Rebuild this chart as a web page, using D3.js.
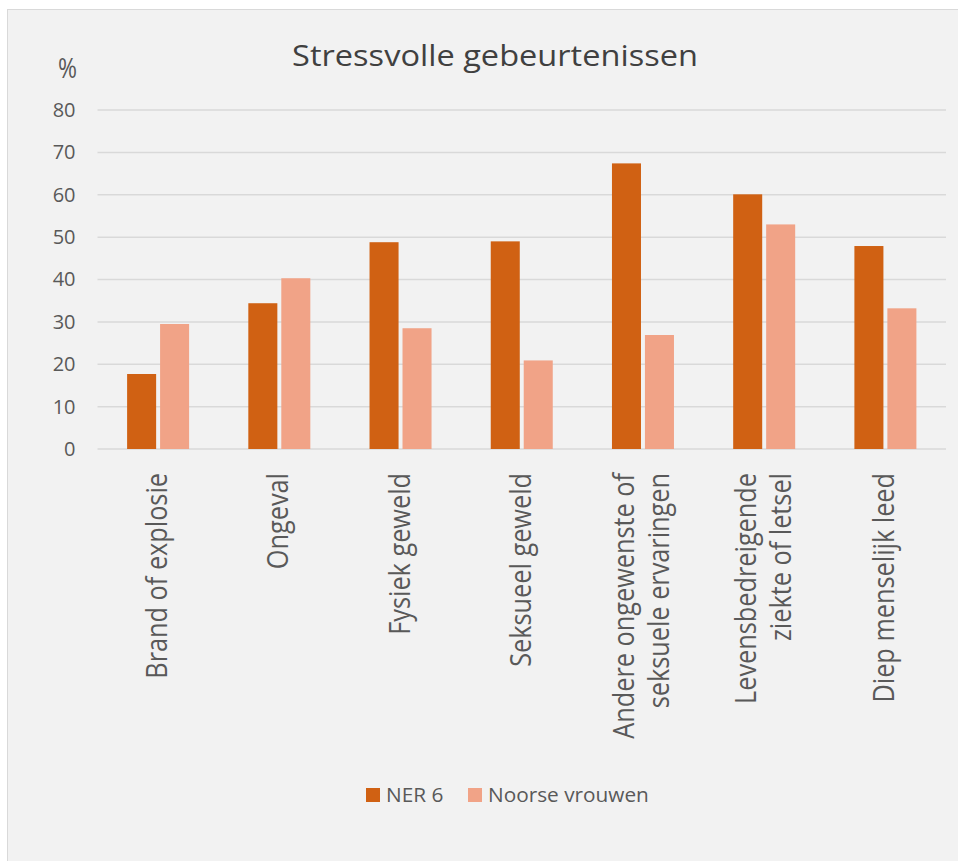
<!DOCTYPE html>
<html>
<head>
<meta charset="utf-8">
<script src="https://cdn.jsdelivr.net/npm/d3@7"></script>
<style>
  body { margin: 0; background: #fff; font-family: "Open Sans", sans-serif; }
</style>
</head>
<body>
<script>
// data
const categories = [
  ["Brand of explosie"],
  ["Ongeval"],
  ["Fysiek geweld"],
  ["Seksueel geweld"],
  ["Andere ongewenste of", "seksuele ervaringen"],
  ["Levensbedreigende", "ziekte of letsel"],
  ["Diep menselijk leed"]
];
const ner6 = [17.7, 34.4, 48.8, 49.0, 67.4, 60.1, 47.9];
const noorse = [29.5, 40.3, 28.5, 20.9, 26.9, 53.0, 33.2];
const seriesNames = ["NER 6", "Noorse vrouwen"];
const yTicks = [0, 10, 20, 30, 40, 50, 60, 70, 80];

const colors = ["#d06113", "#f1a387"];

const W = 958, H = 861;
const svg = d3.select("body").append("svg").attr("width", W).attr("height", H);

// panel
svg.append("rect")
  .attr("x", 7.5).attr("y", 9.5)
  .attr("width", W).attr("height", H)
  .attr("fill", "#f2f2f2").attr("stroke", "#d9d9d9");

const plotL = 97.5, plotR = 946, plotT = 110, plotB = 449;

const x = d3.scaleBand().domain(d3.range(categories.length)).range([plotL, plotR]);
const y = d3.scaleLinear().domain([0, 80]).range([plotB, plotT]);

// gridlines
svg.append("g").selectAll("line")
  .data(yTicks).enter().append("line")
  .attr("x1", plotL).attr("x2", plotR)
  .attr("y1", d => y(d)).attr("y2", d => y(d))
  .attr("stroke", "#d9d9d9").attr("stroke-width", 1.5);

// y axis labels
const yAxis = svg.append("g")
  .attr("transform", "translate(" + (plotL - 22) + ",0)")
  .call(d3.axisLeft(y).tickValues(yTicks).tickSize(0).tickPadding(0));
yAxis.select(".domain").remove();
yAxis.selectAll("text")
  .attr("font-family", "Open Sans").attr("font-size", 20)
  .attr("fill", "#595959");

svg.append("text")
  .attr("transform", "translate(67.5,78) scale(1,1.15)")
  .attr("text-anchor", "middle")
  .attr("font-size", 23).attr("fill", "#595959").text("%");

// title
svg.append("text")
  .attr("transform", "translate(495,66) scale(1.086,1)")
  .attr("text-anchor", "middle")
  .attr("font-size", 30).attr("fill", "#404040")
  .text("Stressvolle gebeurtenissen");

// bars
const inner = d3.scaleBand().domain([0, 1]).range([0, 62]).paddingInner(0.12);
const groupOff = (x.bandwidth() - 62) / 2;
[ner6, noorse].forEach((vals, s) => {
  svg.append("g").selectAll("rect")
    .data(vals).enter().append("rect")
    .attr("x", (d, i) => x(i) + groupOff + inner(s))
    .attr("y", d => y(d))
    .attr("width", inner.bandwidth())
    .attr("height", d => y(0) - y(d))
    .attr("fill", colors[s]);
});

// category labels, rotated
const lineH = 35;
categories.forEach((lines, i) => {
  const cx = x(i) + x.bandwidth() / 2;
  lines.forEach((t, j) => {
    const lx = cx + (j - (lines.length - 1) / 2) * lineH + 9;
    svg.append("text")
      .attr("transform", "translate(" + lx + ",473) rotate(-90) scale(1,1.14)")
      .attr("text-anchor", "end")
      .attr("font-size", 25.3).attr("fill", "#595959")
      .text(t);
  });
});

// legend
const legendX = [366, 468];
seriesNames.forEach((n, s) => {
  svg.append("rect").attr("x", legendX[s]).attr("y", 788)
    .attr("width", 14).attr("height", 14).attr("fill", colors[s]);
  svg.append("text").attr("x", legendX[s] + 20).attr("y", 802)
    .attr("font-size", 20.8).attr("fill", "#595959").text(n);
});
</script>
</body>
</html>
